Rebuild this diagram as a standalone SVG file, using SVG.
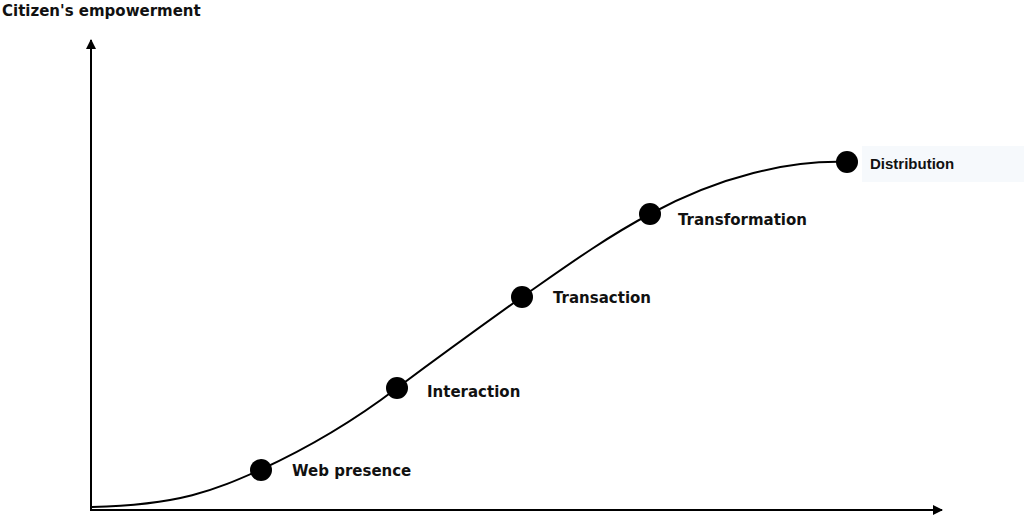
<svg xmlns="http://www.w3.org/2000/svg" width="1024" height="526" viewBox="0 0 1024 526">
<style>
.lbl{font-family:Verdana,"DejaVu Sans",sans-serif;font-weight:bold;font-size:15px;fill:#111}
.ax{stroke:#000;stroke-width:2;fill:none}
.dot{fill:#000}
</style>
<defs><marker id="ah" markerWidth="10" markerHeight="10" refX="9" refY="5" orient="auto" markerUnits="userSpaceOnUse"><path d="M0,0 L10,5 L0,10 z" fill="#000"/></marker></defs>
<rect width="1024" height="526" fill="#fff"/>
<g id="axes">
<line class="ax" x1="91" y1="511" x2="91" y2="40" marker-end="url(#ah)"/>
<line class="ax" x1="90" y1="510" x2="942" y2="510" marker-end="url(#ah)"/>
<text class="lbl" x="2" y="16">Citizen's empowerment</text>
</g>
<g id="connectors">
<path d="M92,507 C180,505 215,490 260,470 C310,447 355,420 397,388 C440,356 480,327 522,297 C565,267 605,238 650,214 C720,176 790,160 847,162" fill="none" stroke="#000" stroke-width="2"/>
</g>
<g id="web"><circle class="dot" cx="261" cy="470" r="11"/><text class="lbl" x="292" y="476">Web presence</text></g>
<g id="interaction"><circle class="dot" cx="397" cy="388" r="11"/><text class="lbl" x="427" y="397">Interaction</text></g>
<g id="transaction"><circle class="dot" cx="522" cy="297" r="11"/><text class="lbl" x="553" y="303">Transaction</text></g>
<g id="transformation"><circle class="dot" cx="650" cy="214" r="11"/><text class="lbl" x="678" y="225">Transformation</text></g>
<g id="distribution"><rect x="862" y="146" width="162" height="36" fill="#f6f9fc"/><circle class="dot" cx="847" cy="162" r="11"/><text class="lbl" x="870" y="169" style="font-family:'Liberation Sans',Arial,sans-serif;font-size:15px">Distribution</text></g>
</svg>
